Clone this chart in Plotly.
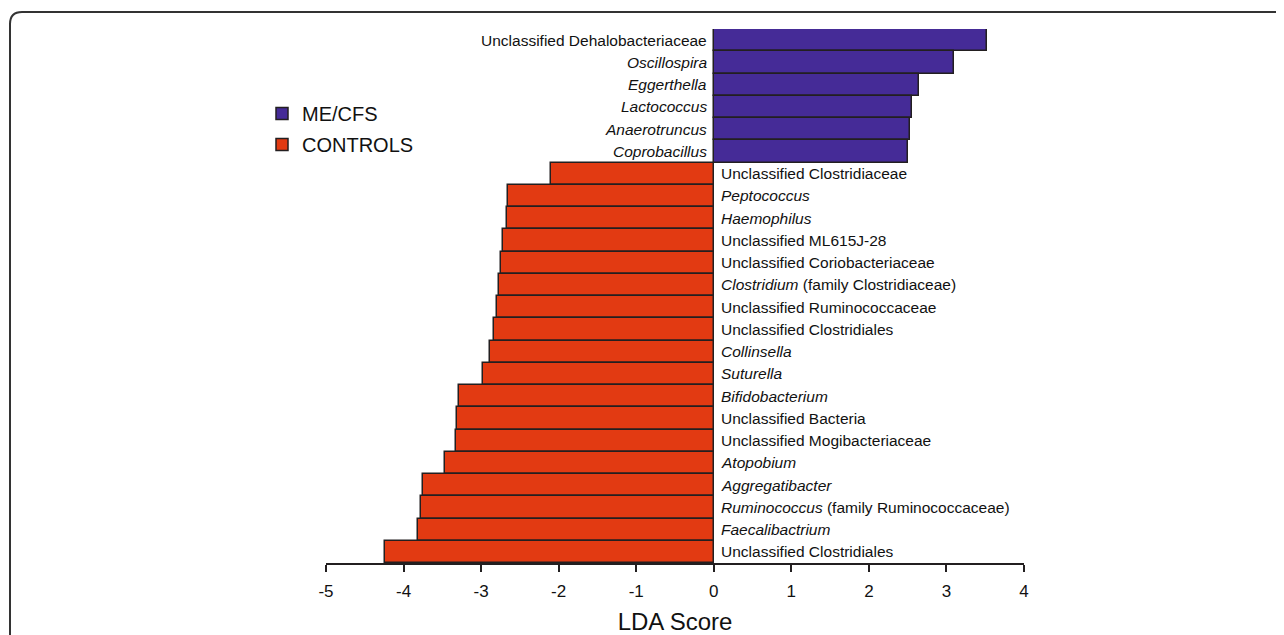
import plotly.graph_objects as go

# ---- data (top to bottom) ----
mecfs_labels = [
    "Unclassified Dehalobacteriaceae",
    "<i>Oscillospira</i>",
    "<i>Eggerthella</i>",
    "<i>Lactococcus</i>",
    "<i>Anaerotruncus</i>",
    "<i>Coprobacillus</i>",
]
mecfs_scores = [3.52, 3.10, 2.64, 2.56, 2.53, 2.51]

control_labels = [
    "Unclassified Clostridiaceae",
    "<i>Peptococcus</i>",
    "<i>Haemophilus</i>",
    "Unclassified ML615J-28",
    "Unclassified Coriobacteriaceae",
    "<i>Clostridium</i> (family Clostridiaceae)",
    "Unclassified Ruminococcaceae",
    "Unclassified Clostridiales",
    "<i>Collinsella</i>",
    "<i>Suturella</i>",
    "<i>Bifidobacterium</i>",
    "Unclassified Bacteria",
    "Unclassified Mogibacteriaceae",
    "<i>Atopobium</i>",
    "<i>Aggregatibacter</i>",
    "<i>Ruminococcus</i> (family Ruminococcaceae)",
    "<i>Faecalibactrium</i>",
    "Unclassified Clostridiales",
]
control_scores = [-2.10, -2.65, -2.67, -2.72, -2.74, -2.77, -2.80, -2.83, -2.89,
                  -2.98, -3.29, -3.31, -3.33, -3.47, -3.75, -3.77, -3.82, -4.24]

x_ticks = [-5, -4, -3, -2, -1, 0, 1, 2, 3, 4]

PURPLE = "#452B97"
ORANGE = "#E23A12"
OUTLINE = "#231F20"
FONT = "Liberation Sans, Arial, Helvetica, sans-serif"

n_total = len(mecfs_labels) + len(control_labels)
mecfs_y = [n_total - 1 - i for i in range(len(mecfs_labels))]
control_y = [n_total - 1 - len(mecfs_labels) - i for i in range(len(control_labels))]

fig = go.Figure()
fig.add_trace(go.Bar(
    x=mecfs_scores, y=mecfs_y, orientation="h", name="ME/CFS",
    legendgroup="a",
    marker=dict(color=PURPLE, line=dict(color=OUTLINE, width=1.5)),
    width=1.0, hoverinfo="x",
))
fig.add_trace(go.Bar(
    x=control_scores, y=control_y, orientation="h", name="CONTROLS",
    legendgroup="b",
    marker=dict(color=ORANGE, line=dict(color=OUTLINE, width=1.5)),
    width=1.0, hoverinfo="x",
))

annotations = []
for lab, yv in zip(mecfs_labels, mecfs_y):
    annotations.append(dict(x=0, y=yv, xref="x", yref="y", text=lab, showarrow=False,
                            xanchor="right", xshift=-5,
                            font=dict(family=FONT, size=15.5, color="#111")))
for lab, yv in zip(control_labels, control_y):
    annotations.append(dict(x=0, y=yv, xref="x", yref="y", text=lab, showarrow=False,
                            xanchor="left", xshift=5,
                            font=dict(family=FONT, size=15.5, color="#111")))

# figure geometry (page body adds an 8px offset)
OFF = 8
W, H = 1284 - OFF, 635 - OFF
L, T = 326 - OFF, 29 - OFF
R, B = 1284 - 1024, 635 - 563
pw, ph = W - L - R, H - T - B

def px(xs):
    return (xs - OFF - L) / pw

def py(ys):
    return 1 - (ys - OFF - T) / ph

# rounded frame (screen coords)
fx0, fy0, rad = 10, 12, 12
frame_path = (f"M {px(fx0)},{py(700)} L {px(fx0)},{py(fy0 + rad)} "
              f"Q {px(fx0)},{py(fy0)} {px(fx0 + rad)},{py(fy0)} "
              f"L {px(1320)},{py(fy0)}")

fig.update_layout(
    width=W, height=H,
    margin=dict(l=L, r=R, t=T, b=B, pad=0, autoexpand=False),
    paper_bgcolor="white", plot_bgcolor="white",
    barmode="overlay", bargap=0,
    font=dict(family=FONT, color="#111"),
    annotations=annotations,
    shapes=[dict(type="path", path=frame_path, xref="paper", yref="paper",
                 line=dict(color="#333", width=2), layer="above")],
    legend=dict(x=px(262), y=py(94), xanchor="left", yanchor="top",
                font=dict(family=FONT, size=20, color="#111"), bgcolor="rgba(0,0,0,0)",
                traceorder="grouped", tracegroupgap=2, itemwidth=30),
    showlegend=True,
)
fig.update_xaxes(
    range=[-5, 4], tickvals=x_ticks, ticktext=[str(v) for v in x_ticks],
    showgrid=False, zeroline=False, showline=True, linecolor=OUTLINE, linewidth=1.5,
    ticks="outside", ticklen=7, tickwidth=1.5, tickcolor=OUTLINE,
    ticklabelstandoff=5, automargin=False,
    tickfont=dict(family=FONT, size=17, color="#111"),
    title=dict(text="LDA Score", font=dict(family=FONT, size=24, color="#111"), standoff=14),
)
fig.update_yaxes(
    range=[-0.5, n_total - 0.5], showticklabels=False, showgrid=False,
    zeroline=False, showline=False, ticks="", automargin=False,
)

fig.write_html("out.html")
